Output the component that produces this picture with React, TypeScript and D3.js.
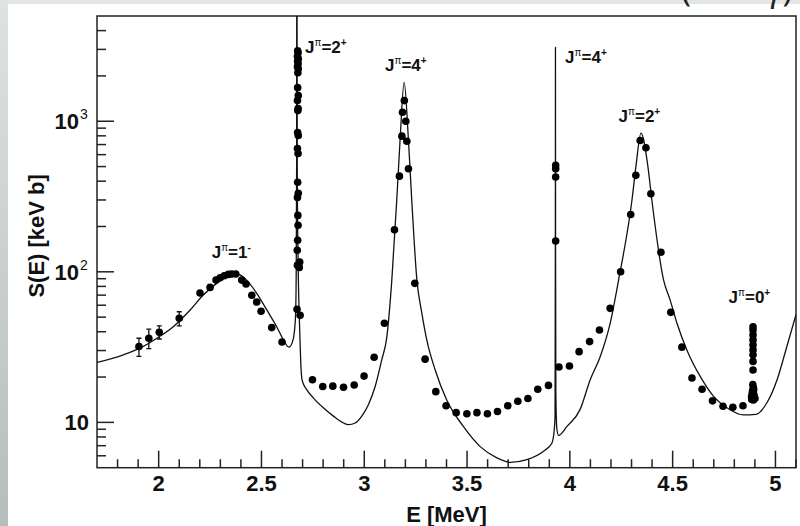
import React from "react";
import * as d3 from "d3";

// ---- data (E in MeV, S in keV b) ----
const curveE = [1.70, 1.828, 1.909, 1.991, 2.071, 2.153, 2.217, 2.282, 2.331, 2.380, 2.428, 2.477, 2.526, 2.574, 2.607, 2.633, 2.650, 2.660, 2.666, 2.669, 2.671, 2.672, 2.674, 2.679, 2.685, 2.691, 2.698, 2.720, 2.753, 2.801, 2.850, 2.899, 2.923, 2.956, 2.988, 3.020, 3.053, 3.085, 3.110, 3.134, 3.158, 3.174, 3.194, 3.215, 3.231, 3.256, 3.280, 3.304, 3.345, 3.401, 3.482, 3.564, 3.645, 3.710, 3.791, 3.872, 3.913, 3.924, 3.928, 3.9295, 3.930, 3.9305, 3.932, 3.937, 3.945, 3.986, 4.050, 4.099, 4.148, 4.196, 4.237, 4.302, 4.321, 4.346, 4.380, 4.399, 4.456, 4.488, 4.521, 4.569, 4.634, 4.699, 4.764, 4.845, 4.905, 4.960, 5.008, 5.050, 5.100];
const curveS = [25.0, 28.1, 31.1, 36.2, 43.2, 55.8, 70.1, 83.8, 92.7, 96.7, 88.1, 71.9, 55.8, 43.2, 35.3, 31.6, 34, 40, 52, 100, 500, 100000, 500, 100, 45, 25, 19, 16.5, 14.5, 12.5, 11.0, 9.9, 9.65, 9.9, 11.0, 13.1, 17.3, 26.0, 37.1, 88.1, 298.6, 745, 1813, 745, 298.6, 88.1, 53.1, 35.3, 22.3, 14.1, 9.4, 6.9, 5.81, 5.43, 5.66, 6.43, 7.3, 8.9, 11, 150, 3090, 150, 15, 9, 8.2, 9.4, 12.2, 19.2, 27.4, 45.5, 88.1, 298.6, 496, 833, 496, 298.6, 88.1, 64.9, 45.5, 30.3, 20.2, 14.9, 12.5, 11.2, 11.3, 13.6, 19.2, 30, 52];

const errE = [1.904, 1.952, 2.003, 2.100];
const errS = [31.9, 36.2, 39.7, 49.1];
const errLo = [27.4, 30.9, 35.8, 43.7];
const errHi = [36.2, 41.6, 43.7, 54.3];

const pointE = [
  2.201, 2.250, 2.279, 2.299, 2.319, 2.339, 2.355, 2.375, 2.404, 2.425, 2.453, 2.477, 2.498, 2.550, 2.600,
  2.676, 2.678, 2.675, 2.679, 2.676, 2.678, 2.675, 2.679, 2.677, 2.676, 2.679, 2.675, 2.678, 2.677, 2.676, 2.679, 2.675, 2.678, 2.676, 2.679, 2.675, 2.677, 2.678, 2.676, 2.674, 2.686, 2.675, 2.684, 2.673, 2.688,
  2.748, 2.798, 2.847, 2.899, 2.951, 2.999, 3.048, 3.098, 3.147, 3.171, 3.183, 3.186, 3.195, 3.202, 3.207, 3.215, 3.246, 3.296, 3.348, 3.398, 3.447, 3.499, 3.548, 3.599, 3.648, 3.698, 3.747, 3.796, 3.844, 3.896,
  3.931, 3.931, 3.931, 3.931,
  3.947, 3.998, 4.045, 4.096, 4.144, 4.196, 4.247, 4.296, 4.321, 4.342, 4.370, 4.394, 4.443, 4.491, 4.545, 4.594, 4.643, 4.694, 4.745, 4.793, 4.842,
  4.891, 4.891, 4.891, 4.891, 4.891, 4.891, 4.891, 4.891, 4.891, 4.890, 4.893, 4.889, 4.895, 4.887, 4.896, 4.891, 4.893, 4.885, 4.898, 4.888, 4.894, 4.900, 4.884
];
const pointS = [
  72.3, 78.8, 88.1, 91.3, 94.1, 96.1, 96.7, 96.7, 88.1, 82.9, 69.8, 63.0, 54.7, 42.6, 34.2,
  2939, 2850, 2700, 2600, 2500, 2411, 2300, 2234, 2101, 1672, 1480, 1371, 1214, 1177, 842, 804, 659, 611, 393, 332, 312, 237, 204, 162, 139, 116, 110.7, 107, 56.4, 51.4,
  19.2, 17.3, 17.4, 17.1, 17.7, 20.3, 27.1, 45.5, 190, 432, 796, 1147, 1371, 1000, 737, 484, 83.8, 26.3, 16.0, 12.9, 11.6, 11.4, 11.6, 11.4, 11.8, 12.9, 13.8, 14.4, 16.6, 17.6,
  509, 484, 426, 160,
  23.3, 23.7, 29.5, 34.4, 41.1, 57.2, 100, 240, 437, 745, 667, 330, 135, 53.8, 31.6, 19.7, 16.6, 13.9, 12.8, 12.6, 12.9,
  43.2, 41.1, 38.1, 35.3, 32.7, 30.3, 28.1, 25.4, 22.3, 17.8, 17.0, 16.3, 15.3, 15.3, 14.5, 14.3, 14.1, 14.2, 14.6, 15.8, 16.5, 14.4, 14.8
];

const labelJ = ["1", "2", "4", "4", "2", "0"];
const labelParity = ["-", "+", "+", "+", "+", "+"];
const labelE = [2.258, 2.712, 3.101, 3.977, 4.237, 4.772];
const labelS = [123.5, 2839, 2140, 2436, 996, 62];

const xMajorTicks = [2, 2.5, 3, 3.5, 4, 4.5, 5];
const xTickLabels = ["2", "2.5", "3", "3.5", "4", "4.5", "5"];
const yMajorTicks = [10, 100, 1000];
const yTickBase = ["10", "10", "10"];
const yTickExp = ["", "2", "3"];

const W = 800, H = 526;
const L = 97, R = 796, T = 16, B = 467.7;

export default function App() {
  const x = d3.scaleLinear().domain([1.7, 5.1]).range([L, R]);
  const y = d3.scaleLog().domain([5, 5000]).range([B, T]);

  const line = d3.line<number>()
    .x((_, i) => x(curveE[i]))
    .y((_, i) => y(curveS[i]))
    .curve(d3.curveMonotoneX);
  const pathD = line(curveE) || "";

  const xMinor = d3.range(18, 52).map((v) => v / 10).filter((v) => Math.abs(v * 2 - Math.round(v * 2)) > 1e-6);
  const yMinor: number[] = [];
  [1, 10, 100, 1000].forEach((dec) => {
    for (let k = 2; k <= 9; k++) {
      const v = k * dec;
      if (v > 5 && v < 5000) yMinor.push(v);
    }
  });

  const font = "'Liberation Sans', Arial, Helvetica, sans-serif";
  const ink = "#111";

  return (
    <svg width={W} height={H} style={{ position: "absolute", left: 0, top: 0, background: "#fff" }}>
      <defs>
        <linearGradient id="side" x1="0" y1="0" x2="0" y2="1">
          <stop offset="0" stopColor="#dfe2e2" />
          <stop offset="1" stopColor="#b7bcbc" />
        </linearGradient>
        <clipPath id="plotClip">
          <rect x={L} y={T} width={R - L} height={B - T} />
        </clipPath>
      </defs>
      <rect x={0} y={0} width={W} height={H} fill="#fff" />
      <rect x={0} y={0} width={W} height={4} fill="#e4e6e6" />
      <rect x={0} y={0} width={8} height={H} fill="url(#side)" />

      {/* slide title, cut off at the top edge as in the reference */}
      <text y={1} fontFamily="'Open Sans', sans-serif" fontSize={34} fill="#222">
        <tspan x={681}>(</tspan>
        <tspan x={765}>γ)</tspan>
      </text>

      {/* frame */}
      <rect x={L} y={T} width={R - L} height={B - T} fill="none" stroke="#222" strokeWidth={1.5} />

      {/* x ticks */}
      {xMajorTicks.map((v) => (
        <line key={"xM" + v} x1={x(v)} x2={x(v)} y1={B} y2={B - 17} stroke="#222" strokeWidth={1.5} />
      ))}
      {xMinor.map((v) => (
        <line key={"xm" + v} x1={x(v)} x2={x(v)} y1={B} y2={B - 8.5} stroke="#222" strokeWidth={1.5} />
      ))}
      {xMajorTicks.map((v, i) => (
        <text key={"xl" + v} x={x(v)} y={491} textAnchor="middle" fontFamily={font} fontWeight="bold" fontSize={22} fill={ink}>
          {xTickLabels[i]}
        </text>
      ))}
      <text x={(L + R) / 2} y={522} textAnchor="middle" fontFamily={font} fontWeight="bold" fontSize={22} fill={ink}>
        E [MeV]
      </text>

      {/* y ticks */}
      {yMajorTicks.map((v) => (
        <line key={"yM" + v} x1={L} x2={L + 17} y1={y(v)} y2={y(v)} stroke="#222" strokeWidth={1.5} />
      ))}
      {yMinor.map((v) => (
        <line key={"ym" + v} x1={L} x2={L + 9} y1={y(v)} y2={y(v)} stroke="#222" strokeWidth={1.5} />
      ))}
      {yMajorTicks.map((v, i) => (
        <text key={"yl" + v} x={yTickExp[i] ? 79 : 89} y={y(v) + 8} textAnchor="end" fontFamily={font} fontWeight="bold" fontSize={22} fill={ink}>
          {yTickBase[i]}
        </text>
      ))}
      {yMajorTicks.map((v, i) =>
        yTickExp[i] ? (
          <text key={"ye" + v} x={80} y={y(v) - 2} fontFamily={font} fontSize={14} fill={ink}>
            {yTickExp[i]}
          </text>
        ) : null
      )}
      <text transform={`translate(44, ${(T + B) / 2 - 6}) rotate(-90)`} textAnchor="middle" fontFamily={font} fontWeight="bold" fontSize={22} fill={ink}>
        S(E) [keV b]
      </text>

      <g clipPath="url(#plotClip)">
        <path d={pathD} fill="none" stroke="#111" strokeWidth={1.3} />
        {errE.map((e, i) => (
          <g key={"err" + i} stroke="#111" strokeWidth={1.3}>
            <line x1={x(e)} x2={x(e)} y1={y(errLo[i])} y2={y(errHi[i])} />
            <line x1={x(e) - 2.5} x2={x(e) + 2.5} y1={y(errLo[i])} y2={y(errLo[i])} />
            <line x1={x(e) - 2.5} x2={x(e) + 2.5} y1={y(errHi[i])} y2={y(errHi[i])} />
          </g>
        ))}
        {errE.map((e, i) => (
          <circle key={"ep" + i} cx={x(e)} cy={y(errS[i])} r={3.8} fill="#000" />
        ))}
        {pointE.map((e, i) => (
          <circle key={"p" + i} cx={x(e)} cy={y(pointS[i])} r={3.8} fill="#000" />
        ))}
      </g>

      {/* resonance labels */}
      {labelJ.map((j, i) => (
        <text key={"lab" + i} x={x(labelE[i])} y={y(labelS[i])} fontFamily={font} fontWeight="bold" fontSize={17} fill={ink}>
          J
          <tspan fontSize={10} fontWeight="normal" dy={-7}>π</tspan>
          <tspan dy={7}>={j}</tspan>
          <tspan fontSize={10} dy={-7}>{labelParity[i]}</tspan>
        </text>
      ))}
    </svg>
  );
}
